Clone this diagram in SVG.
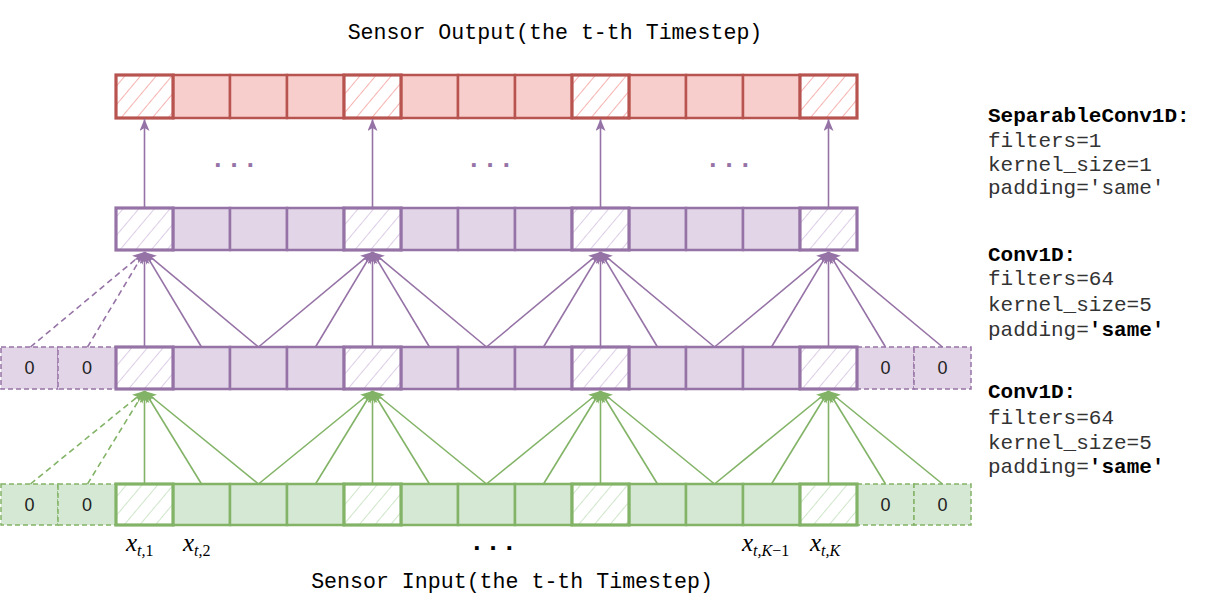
<svg xmlns="http://www.w3.org/2000/svg" width="1208" height="605" viewBox="0 0 1208 605">
<style>
.mono{font-family:"Liberation Mono","Courier New",monospace;font-size:21px;fill:#333}
.ttl{font-size:21.6px;fill:#000;text-anchor:middle}
.hdr{font-weight:bold;fill:#000}
.b{font-weight:bold;fill:#000}
.zero{font-family:"Liberation Sans",Arial,sans-serif;font-size:18px;fill:#222;text-anchor:middle}
.mx{font-family:"Liberation Serif","Times New Roman",serif;font-style:italic;font-size:25px;fill:#000}
.sub{font-size:16px}
.up{font-style:normal}
.dots{font-family:"Liberation Mono","Courier New",monospace;font-weight:bold;font-size:26px;letter-spacing:0.6px}
.rc{fill:#f8cecc;stroke:#b85450;stroke-width:2.5}
.rh{fill:url(#hr);stroke:#b85450;stroke-width:3.2}
.pc{fill:#e1d5e7;stroke:#9673a6;stroke-width:2.5}
.ph{fill:url(#hp);stroke:#9673a6;stroke-width:3.2}
.pz{fill:#e1d5e7;stroke:#9673a6;stroke-width:1.5;stroke-dasharray:5 3}
.gc{fill:#d5e8d4;stroke:#82b366;stroke-width:2.5}
.gh{fill:url(#hg);stroke:#82b366;stroke-width:3.2}
.gz{fill:#d5e8d4;stroke:#82b366;stroke-width:1.5;stroke-dasharray:5 3}
.pl{stroke:#9673a6;stroke-width:1.6;fill:none;marker-end:url(#ap)}
.gl{stroke:#82b366;stroke-width:1.6;fill:none;marker-end:url(#ag)}
.dash{stroke-dasharray:6 4}
</style>
<defs>
<pattern id="hr" patternUnits="userSpaceOnUse" width="12" height="12" patternTransform="rotate(40)">
<rect width="12" height="12" fill="#fff"/><line x1="0" y1="0" x2="0" y2="12" stroke="#f5b3b0" stroke-width="2"/>
</pattern>
<pattern id="hp" patternUnits="userSpaceOnUse" width="12" height="12" patternTransform="rotate(40)">
<rect width="12" height="12" fill="#fff"/><line x1="0" y1="0" x2="0" y2="12" stroke="#dccde6" stroke-width="2"/>
</pattern>
<pattern id="hg" patternUnits="userSpaceOnUse" width="12" height="12" patternTransform="rotate(40)">
<rect width="12" height="12" fill="#fff"/><line x1="0" y1="0" x2="0" y2="12" stroke="#cfe6ca" stroke-width="2"/>
</pattern>
<marker id="ap" markerUnits="userSpaceOnUse" markerWidth="13" markerHeight="11" refX="12" refY="5" orient="auto">
<path d="M0,0 L12,5 L0,10 L3,5 z" fill="#9673a6"/>
</marker>
<marker id="ag" markerUnits="userSpaceOnUse" markerWidth="13" markerHeight="11" refX="12" refY="5" orient="auto">
<path d="M0,0 L12,5 L0,10 L3,5 z" fill="#82b366"/>
</marker>
</defs>

<!-- Titles -->
<text class="mono ttl" x="555" y="39">Sensor Output(the t-th Timestep)</text>
<text class="mono ttl" x="512" y="588">Sensor Input(the t-th Timestep)</text>

<!-- Red output row -->
<g id="out-row">
<rect class="rc" x="173" y="75" width="57" height="43"/>
<rect class="rc" x="230" y="75" width="57" height="43"/>
<rect class="rc" x="287" y="75" width="57" height="43"/>
<rect class="rc" x="401" y="75" width="57" height="43"/>
<rect class="rc" x="458" y="75" width="57" height="43"/>
<rect class="rc" x="515" y="75" width="57" height="43"/>
<rect class="rc" x="629" y="75" width="57" height="43"/>
<rect class="rc" x="686" y="75" width="57" height="43"/>
<rect class="rc" x="743" y="75" width="57" height="43"/>
<g id="out-0"><rect class="rh" x="116" y="75" width="57" height="43"/></g>
<g id="out-4"><rect class="rh" x="344" y="75" width="57" height="43"/></g>
<g id="out-8"><rect class="rh" x="572" y="75" width="57" height="43"/></g>
<g id="out-12"><rect class="rh" x="800" y="75" width="57" height="43"/></g>
</g>

<!-- Purple top row -->
<g id="conv2-row">
<rect class="pc" x="173" y="208" width="57" height="42"/>
<rect class="pc" x="230" y="208" width="57" height="42"/>
<rect class="pc" x="287" y="208" width="57" height="42"/>
<rect class="pc" x="401" y="208" width="57" height="42"/>
<rect class="pc" x="458" y="208" width="57" height="42"/>
<rect class="pc" x="515" y="208" width="57" height="42"/>
<rect class="pc" x="629" y="208" width="57" height="42"/>
<rect class="pc" x="686" y="208" width="57" height="42"/>
<rect class="pc" x="743" y="208" width="57" height="42"/>
<g id="conv2-0"><rect class="ph" x="116" y="208" width="57" height="42"/></g>
<g id="conv2-4"><rect class="ph" x="344" y="208" width="57" height="42"/></g>
<g id="conv2-8"><rect class="ph" x="572" y="208" width="57" height="42"/></g>
<g id="conv2-12"><rect class="ph" x="800" y="208" width="57" height="42"/></g>
</g>

<!-- Purple middle row -->
<g id="conv1-row">
<g id="conv1-pad-l1"><rect class="pz" x="1" y="347" width="57" height="42"/><text class="zero" x="29.5" y="374">0</text></g>
<g id="conv1-pad-l2"><rect class="pz" x="58" y="347" width="58" height="42"/><text class="zero" x="87" y="374">0</text></g>
<g id="conv1-pad-r1"><rect class="pz" x="857" y="347" width="57" height="42"/><text class="zero" x="885.5" y="374">0</text></g>
<g id="conv1-pad-r2"><rect class="pz" x="914" y="347" width="57" height="42"/><text class="zero" x="942.5" y="374">0</text></g>
<rect class="pc" x="173" y="347" width="57" height="42"/>
<rect class="pc" x="230" y="347" width="57" height="42"/>
<rect class="pc" x="287" y="347" width="57" height="42"/>
<rect class="pc" x="401" y="347" width="57" height="42"/>
<rect class="pc" x="458" y="347" width="57" height="42"/>
<rect class="pc" x="515" y="347" width="57" height="42"/>
<rect class="pc" x="629" y="347" width="57" height="42"/>
<rect class="pc" x="686" y="347" width="57" height="42"/>
<rect class="pc" x="743" y="347" width="57" height="42"/>
<g id="conv1-0"><rect class="ph" x="116" y="347" width="57" height="42"/></g>
<g id="conv1-4"><rect class="ph" x="344" y="347" width="57" height="42"/></g>
<g id="conv1-8"><rect class="ph" x="572" y="347" width="57" height="42"/></g>
<g id="conv1-12"><rect class="ph" x="800" y="347" width="57" height="42"/></g>
</g>

<!-- Green input row -->
<g id="input-row">
<g id="in-pad-l1"><rect class="gz" x="1" y="484" width="57" height="41"/><text class="zero" x="29.5" y="511">0</text></g>
<g id="in-pad-l2"><rect class="gz" x="58" y="484" width="58" height="41"/><text class="zero" x="87" y="511">0</text></g>
<g id="in-pad-r1"><rect class="gz" x="857" y="484" width="57" height="41"/><text class="zero" x="885.5" y="511">0</text></g>
<g id="in-pad-r2"><rect class="gz" x="914" y="484" width="57" height="41"/><text class="zero" x="942.5" y="511">0</text></g>
<rect class="gc" x="173" y="484" width="57" height="41"/>
<rect class="gc" x="230" y="484" width="57" height="41"/>
<rect class="gc" x="287" y="484" width="57" height="41"/>
<rect class="gc" x="401" y="484" width="57" height="41"/>
<rect class="gc" x="458" y="484" width="57" height="41"/>
<rect class="gc" x="515" y="484" width="57" height="41"/>
<rect class="gc" x="629" y="484" width="57" height="41"/>
<rect class="gc" x="686" y="484" width="57" height="41"/>
<rect class="gc" x="743" y="484" width="57" height="41"/>
<g id="in-0"><rect class="gh" x="116" y="484" width="57" height="41"/></g>
<g id="in-4"><rect class="gh" x="344" y="484" width="57" height="41"/></g>
<g id="in-8"><rect class="gh" x="572" y="484" width="57" height="41"/></g>
<g id="in-12"><rect class="gh" x="800" y="484" width="57" height="41"/></g>
</g>

<!-- Connectors -->
<g id="connectors">
<line class="pl" x1="144.5" y1="208" x2="144.5" y2="119"/>
<line class="pl" x1="372.5" y1="208" x2="372.5" y2="119"/>
<line class="pl" x1="600.5" y1="208" x2="600.5" y2="119"/>
<line class="pl" x1="828.5" y1="208" x2="828.5" y2="119"/>
<line class="pl dash" x1="30.5" y1="347" x2="144.5" y2="252"/>
<line class="pl dash" x1="87.5" y1="347" x2="144.5" y2="252"/>
<line class="pl" x1="144.5" y1="347" x2="144.5" y2="252"/>
<line class="pl" x1="201.5" y1="347" x2="144.5" y2="252"/>
<line class="pl" x1="258.5" y1="347" x2="144.5" y2="252"/>
<line class="pl" x1="258.5" y1="347" x2="372.5" y2="252"/>
<line class="pl" x1="315.5" y1="347" x2="372.5" y2="252"/>
<line class="pl" x1="372.5" y1="347" x2="372.5" y2="252"/>
<line class="pl" x1="429.5" y1="347" x2="372.5" y2="252"/>
<line class="pl" x1="486.5" y1="347" x2="372.5" y2="252"/>
<line class="pl" x1="486.5" y1="347" x2="600.5" y2="252"/>
<line class="pl" x1="543.5" y1="347" x2="600.5" y2="252"/>
<line class="pl" x1="600.5" y1="347" x2="600.5" y2="252"/>
<line class="pl" x1="657.5" y1="347" x2="600.5" y2="252"/>
<line class="pl" x1="714.5" y1="347" x2="600.5" y2="252"/>
<line class="pl" x1="714.5" y1="347" x2="828.5" y2="252"/>
<line class="pl" x1="771.5" y1="347" x2="828.5" y2="252"/>
<line class="pl" x1="828.5" y1="347" x2="828.5" y2="252"/>
<line class="pl" x1="885.5" y1="347" x2="828.5" y2="252"/>
<line class="pl" x1="942.5" y1="347" x2="828.5" y2="252"/>
<line class="gl dash" x1="30.5" y1="484" x2="144.5" y2="391"/>
<line class="gl dash" x1="87.5" y1="484" x2="144.5" y2="391"/>
<line class="gl" x1="144.5" y1="484" x2="144.5" y2="391"/>
<line class="gl" x1="201.5" y1="484" x2="144.5" y2="391"/>
<line class="gl" x1="258.5" y1="484" x2="144.5" y2="391"/>
<line class="gl" x1="258.5" y1="484" x2="372.5" y2="391"/>
<line class="gl" x1="315.5" y1="484" x2="372.5" y2="391"/>
<line class="gl" x1="372.5" y1="484" x2="372.5" y2="391"/>
<line class="gl" x1="429.5" y1="484" x2="372.5" y2="391"/>
<line class="gl" x1="486.5" y1="484" x2="372.5" y2="391"/>
<line class="gl" x1="486.5" y1="484" x2="600.5" y2="391"/>
<line class="gl" x1="543.5" y1="484" x2="600.5" y2="391"/>
<line class="gl" x1="600.5" y1="484" x2="600.5" y2="391"/>
<line class="gl" x1="657.5" y1="484" x2="600.5" y2="391"/>
<line class="gl" x1="714.5" y1="484" x2="600.5" y2="391"/>
<line class="gl" x1="714.5" y1="484" x2="828.5" y2="391"/>
<line class="gl" x1="771.5" y1="484" x2="828.5" y2="391"/>
<line class="gl" x1="828.5" y1="484" x2="828.5" y2="391"/>
<line class="gl" x1="885.5" y1="484" x2="828.5" y2="391"/>
<line class="gl" x1="942.5" y1="484" x2="828.5" y2="391"/>
</g>

<!-- Ellipses -->
<g id="ellipses" class="dots" fill="#9673a6">
<text x="210" y="167">...</text>
<text x="466" y="167">...</text>
<text x="705" y="167">...</text>
<text x="469" y="550" fill="#000">...</text>
</g>

<!-- x labels -->
<g id="x-labels">
<text class="mx" x="126" y="551">x<tspan class="sub" dy="5">t,<tspan class="up">1</tspan></tspan></text>
<text class="mx" x="183" y="551">x<tspan class="sub" dy="5">t,<tspan class="up">2</tspan></tspan></text>
<text class="mx" x="742" y="551">x<tspan class="sub" dy="5">t,K<tspan class="up">−1</tspan></tspan></text>
<text class="mx" x="810" y="551">x<tspan class="sub" dy="5">t,K</tspan></text>
</g>

<!-- Layer descriptions -->
<g id="layer-labels" class="mono">
<text x="988" y="122" class="hdr">SeparableConv1D:</text>
<text x="988" y="147">filters=1</text>
<text x="988" y="171">kernel_size=1</text>
<text x="988" y="194">padding='same'</text>
<text x="988" y="261" class="hdr">Conv1D:</text>
<text x="988" y="285">filters=64</text>
<text x="988" y="311">kernel_size=5</text>
<text x="988" y="336">padding=<tspan class="b">'same'</tspan></text>
<text x="988" y="398" class="hdr">Conv1D:</text>
<text x="988" y="424">filters=64</text>
<text x="988" y="449">kernel_size=5</text>
<text x="988" y="473">padding=<tspan class="b">'same'</tspan></text>
</g>
</svg>
